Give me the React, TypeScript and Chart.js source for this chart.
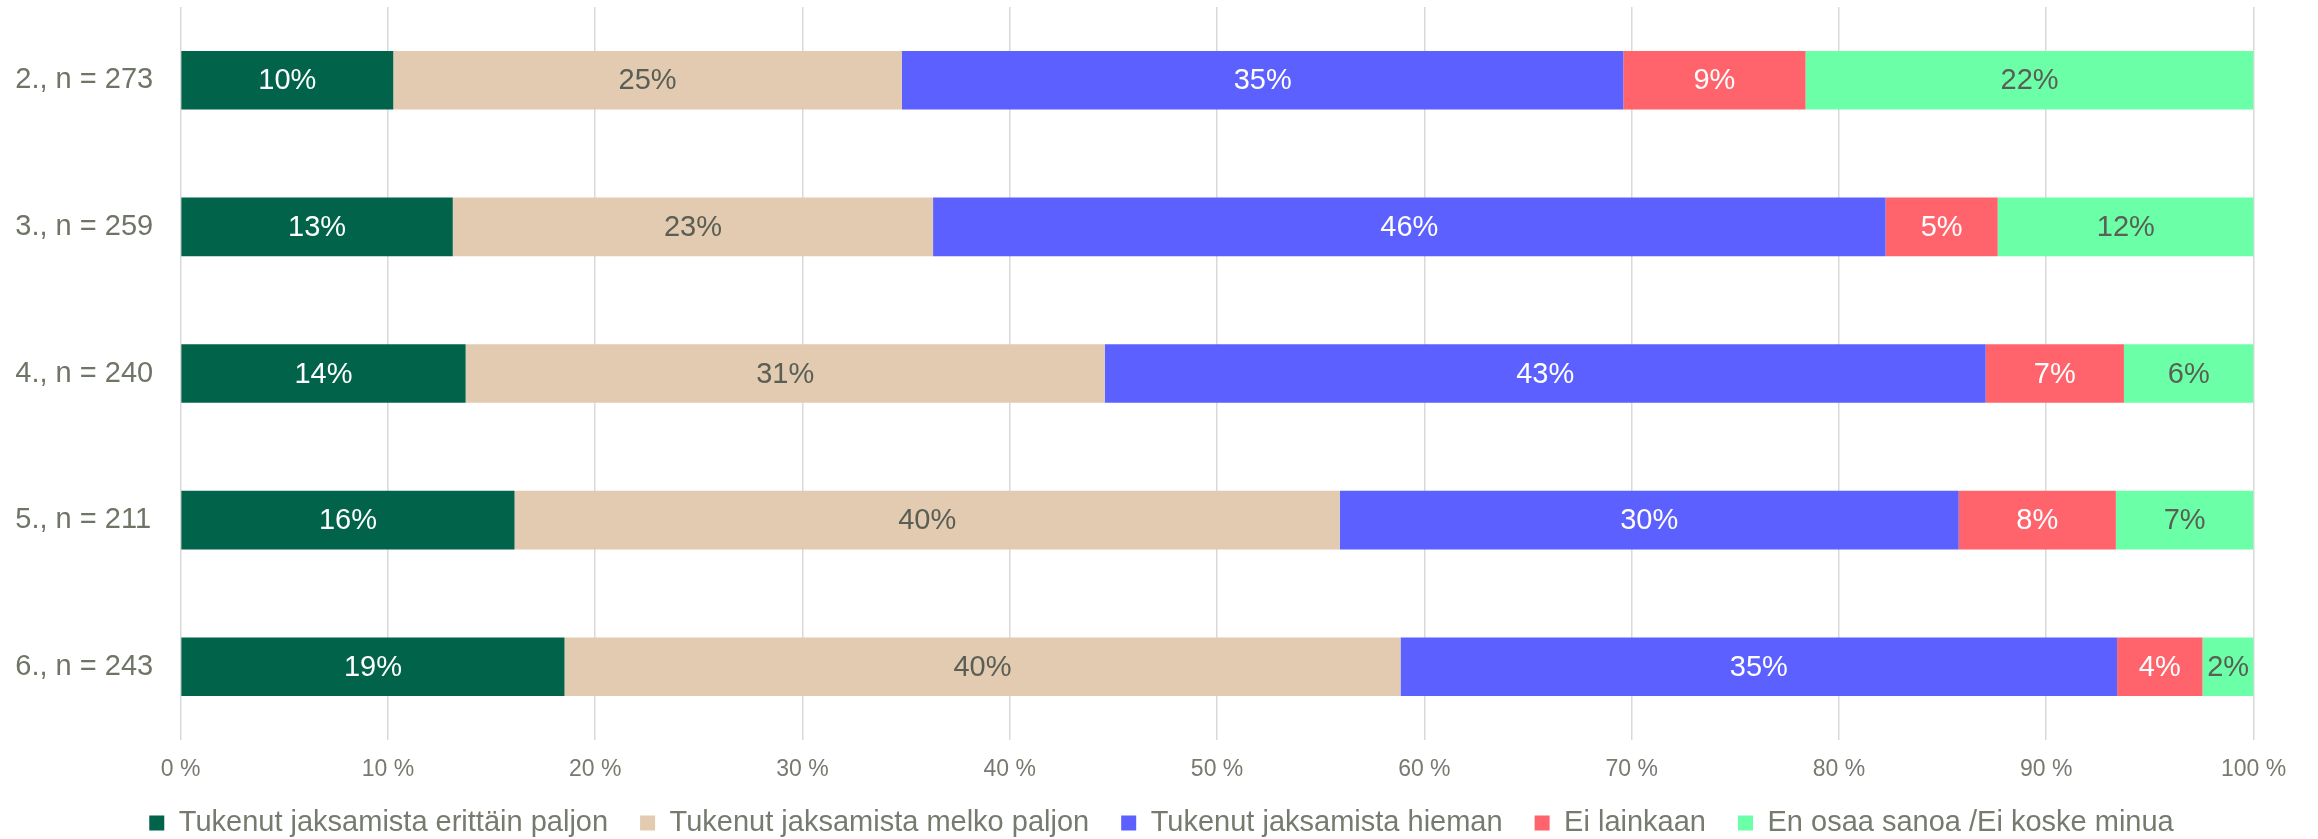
import React, { useEffect, useRef } from "react";
import { Chart, registerables } from "chart.js";

Chart.register(...registerables);

const categories = ["2., n = 273", "3., n = 259", "4., n = 240", "5., n = 211", "6., n = 243"];
const seriesNames = [
  "Tukenut jaksamista erittäin paljon",
  "Tukenut jaksamista melko paljon",
  "Tukenut jaksamista hieman",
  "Ei lainkaan",
  "En osaa sanoa /Ei koske minua",
];
const erittainPaljon = [10.26, 13.13, 13.75, 16.11, 18.52];
const melkoPaljon = [24.54, 23.17, 30.83, 39.81, 40.33];
const hieman = [34.8, 45.95, 42.5, 29.86, 34.57];
const eiLainkaan = [8.79, 5.41, 6.67, 7.58, 4.12];
const enOsaa = [21.61, 12.36, 6.25, 6.64, 2.47];
const xTicks = [0, 10, 20, 30, 40, 50, 60, 70, 80, 90, 100];

const colors = ["#00634A", "#E2CBB0", "#5B60FF", "#FF636B", "#6BFFA8"];
const labelColors = ["#FFFFFF", "#5A5E55", "#FFFFFF", "#FFFFFF", "#5A5E55"];
const FONT = "'Liberation Sans', Arial, sans-serif";

const dataLabelPlugin = {
  id: "dataLabels",
  afterDatasetsDraw(chart: any) {
    const ctx = chart.ctx;
    ctx.save();
    ctx.font = `29px ${FONT}`;
    ctx.textAlign = "center";
    ctx.textBaseline = "middle";
    chart.data.datasets.forEach((ds: any, di: number) => {
      const meta = chart.getDatasetMeta(di);
      if (meta.hidden) return;
      meta.data.forEach((el: any, i: number) => {
        const v = ds.data[i];
        if (v == null) return;
        const x = (el.x + el.base) / 2;
        ctx.fillStyle = labelColors[di];
        ctx.fillText(`${Math.round(v)}%`, x, el.y + 1);
      });
    });
    ctx.restore();
  },
};

// move the legend's top edge up a little so its row sits where the reference has it
const legendShiftPlugin = {
  id: "legendShift",
  afterLayout(chart: any) {
    const lg = chart.legend;
    if (lg) {
      lg.top -= 2;
      lg.height += 2;
    }
  },
};

export default function App() {
  const ref = useRef<HTMLCanvasElement>(null);
  useEffect(() => {
    if (!ref.current) return;
    const values = [erittainPaljon, melkoPaljon, hieman, eiLainkaan, enOsaa];
    const chart = new Chart(ref.current, {
      type: "bar",
      data: {
        labels: categories,
        datasets: values.map((d, i) => ({
          label: seriesNames[i],
          data: d,
          backgroundColor: colors[i],
          borderWidth: 0,
          barPercentage: 0.4,
          categoryPercentage: 1,
        })),
      },
      options: {
        indexAxis: "y",
        animation: false,
        responsive: true,
        maintainAspectRatio: false,
        layout: { padding: { left: 15.3, right: 10.3, top: 7, bottom: 0 } },
        scales: {
          x: {
            stacked: true,
            min: 0,
            max: 100,
            afterBuildTicks: (axis: any) => {
              axis.ticks = xTicks.map((v) => ({ value: v }));
            },
            afterFit: (axis: any) => {
              axis.height = 38.5;
              axis.paddingRight = 64.5;
            },
            ticks: {
              callback: (v: any) => `${v} %`,
              color: "#767A70",
              font: { family: FONT, size: 23, lineHeight: 0.78 },
              padding: 20.5,
              maxRotation: 0,
            },
            grid: { color: "#D9D9D9", lineWidth: 1.5, drawTicks: false },
            border: { display: false },
          },
          y: {
            stacked: true,
            afterFit: (axis: any) => {
              axis.width = 165.3;
            },
            ticks: {
              color: "#6F7566",
              font: { family: FONT, size: 29, lineHeight: 0.4 },
              padding: 0,
              crossAlign: "far",
            },
            grid: { display: false, drawTicks: false },
            border: { display: false },
          },
        },
        plugins: {
          legend: {
            position: "bottom",
            maxHeight: 60.5,
            labels: {
              boxWidth: 15,
              boxHeight: 15,
              padding: 32,
              color: "#767B6F",
              font: { family: FONT, size: 29 },
            },
          },
          tooltip: { enabled: false },
        },
      },
      plugins: [dataLabelPlugin, legendShiftPlugin],
    });
    return () => chart.destroy();
  }, []);
  return (
    <div style={{ position: "absolute", left: 0, top: 0, width: 2318, height: 839, background: "#fff" }}>
      <canvas ref={ref} />
    </div>
  );
}
